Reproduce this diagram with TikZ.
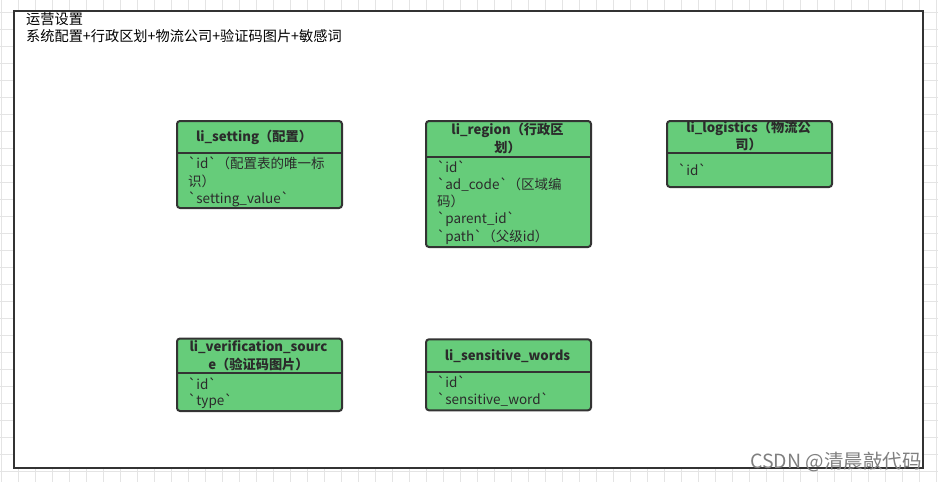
\documentclass[tikz,border=0pt]{standalone}
\usepackage{fontspec}
\setmainfont{Noto Sans CJK SC}
\definecolor{gridc}{HTML}{E4E4E4}
\definecolor{darkc}{HTML}{333333}
\definecolor{tgreen}{RGB}{102,204,122}
\definecolor{txtc}{HTML}{2B2B2B}
\newcommand\bq{\textasciigrave}
\tikzset{
  tbl/.style={draw=darkc, line width=2pt, fill=tgreen, rounded corners=3pt, inner sep=0pt, anchor=north west},
  sep/.style={draw=darkc, line width=2pt},
  row/.style={anchor=west, inner sep=0pt, text=txtc, font=\fontsize{13.5}{15}\selectfont},
  hdr/.style={anchor=center, inner sep=0pt, text=txtc, font=\fontsize{13.2}{15}\selectfont\bfseries},
  title/.style={anchor=west, inner sep=0pt, text=black, font=\fontsize{14.2}{16}\selectfont},
}
\begin{document}
\begin{tikzpicture}[x=1pt,y=-1pt]
\useasboundingbox (0,0) rectangle (938,482);
% grid
\foreach \i in {0,...,55} {\draw[gridc, line width=1pt] (1.5+17*\i,0) -- (1.5+17*\i,482);}
\foreach \j in {0,...,28} {\draw[gridc, line width=1pt] (0,12.3+17*\j) -- (938,12.3+17*\j);}
% frame
\node[draw=darkc, line width=2pt, fill=white, inner sep=0pt, minimum width=909pt, minimum height=457pt, anchor=north west] (frame) at (13,10) {};
\node[title] (t1) at (26,19) {运营设置};
\node[title] (t2) at (26,36.5) {系统配置+行政区划+物流公司+验证码图片+敏感词};

% li_setting
\node[tbl, minimum width=165pt, minimum height=87pt] (setting) at (176,120) {};
\draw[sep] (setting.west |- 0,152.7) -- (setting.east |- 0,152.7);
\node[hdr] (setting-h) at (254,137) {li\_setting（配置）};
\node[row] (setting-r1) at (188,163.3) {\bq id\bq（配置表的唯一标};
\node[row] (setting-r2) at (188,181) {识）};
\node[row] (setting-r3) at (188,199.3) {\bq setting\_value\bq};

% li_region
\node[tbl, minimum width=165pt, minimum height=126pt] (region) at (425,120) {};
\draw[sep] (region.west |- 0,157.3) -- (region.east |- 0,157.3);
\node[hdr] (region-h1) at (507.5,130.7) {li\_region（行政区};
\node[hdr] (region-h2) at (507.5,147.3) {划）};
\node[row] (region-r1) at (437,166.7) {\bq id\bq};
\node[row] (region-r2) at (437,184.2) {\bq ad\_code\bq（区域编};
\node[row] (region-r3) at (437,201.5) {码）};
\node[row] (region-r4) at (437,219.5) {\bq parent\_id\bq};
\node[row] (region-r5) at (437,236.7) {\bq path\bq（父级id）};

% li_logistics
\node[tbl, minimum width=165pt, minimum height=66pt] (logistics) at (666,120) {};
\draw[sep] (logistics.west |- 0,152.7) -- (logistics.east |- 0,152.7);
\node[hdr] (logistics-h1) at (748.5,128.5) {li\_logistics（物流公};
\node[hdr] (logistics-h2) at (748.5,144.5) {司）};
\node[row] (logistics-r1) at (678,170) {\bq id\bq};

% li_verification_source
\node[tbl, minimum width=165pt, minimum height=72.5pt] (verif) at (176,337.5) {};
\draw[sep] (verif.west |- 0,373.3) -- (verif.east |- 0,373.3);
\node[hdr] (verif-h1) at (258.5,347.3) {li\_verification\_sourc};
\node[hdr] (verif-h2) at (258.5,364) {e（验证码图片）};
\node[row] (verif-r1) at (188,383.3) {\bq id\bq};
\node[row] (verif-r2) at (188,400.7) {\bq type\bq};

% li_sensitive_words
\node[tbl, minimum width=165pt, minimum height=71pt] (sens) at (425,338.3) {};
\draw[sep] (sens.west |- 0,372.3) -- (sens.east |- 0,372.3);
\node[hdr] (sens-h) at (507.5,356) {li\_sensitive\_words};
\node[row] (sens-r1) at (437,381.7) {\bq id\bq};
\node[row] (sens-r2) at (437,399.3) {\bq sensitive\_word\bq};

% watermark
\node[anchor=east, inner sep=0pt, text=black!50, font=\fontsize{19.5}{21}\selectfont] (wm) at (922,462) {CSDN @清晨敲代码};
\end{tikzpicture}
\end{document}
